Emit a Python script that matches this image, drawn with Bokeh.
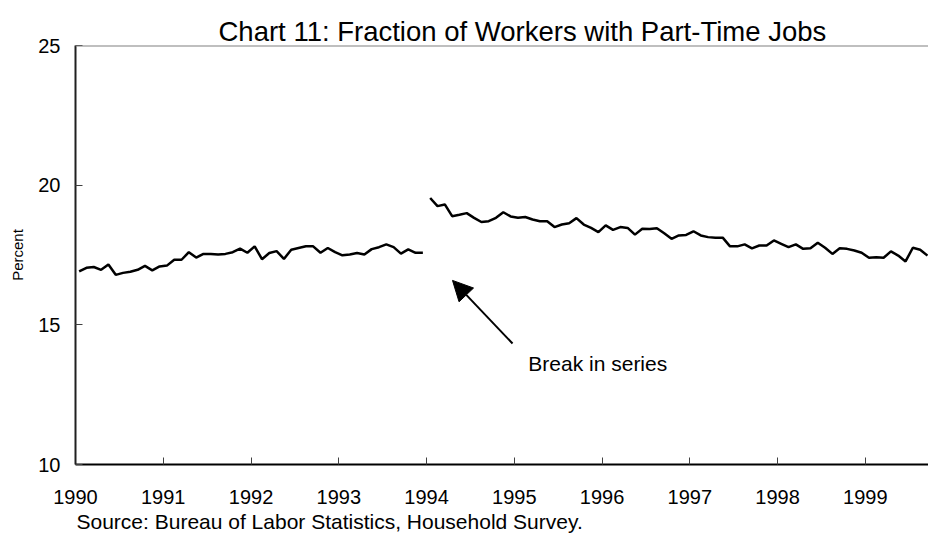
from bokeh.plotting import figure
from bokeh.models import Range1d, FixedTicker, Span, Arrow, NormalHead, Label, Title
from bokeh.embed import file_html
from bokeh.resources import INLINE

# ---- data ----
x_ticks = [1990, 1991, 1992, 1993, 1994, 1995, 1996, 1997, 1998, 1999]
y_ticks = [10, 15, 20, 25]

series1_start = 1990  # monthly, Jan 1990 - Dec 1993
series1 = [16.91, 17.04, 17.07, 16.97, 17.16, 16.79, 16.86, 16.90, 16.97, 17.11, 16.95, 17.09,
           17.12, 17.33, 17.33, 17.60, 17.41, 17.54, 17.54, 17.52, 17.54, 17.60, 17.73, 17.58,
           17.81, 17.35, 17.57, 17.64, 17.36, 17.69, 17.75, 17.81, 17.81, 17.58, 17.75, 17.60,
           17.49, 17.52, 17.57, 17.52, 17.71, 17.78, 17.88, 17.78, 17.55, 17.70, 17.58, 17.58]

series2_start = 1994  # monthly, Jan 1994 - Sep 1999
series2 = [19.54, 19.25, 19.31, 18.89, 18.94, 19.00, 18.83, 18.68, 18.71, 18.83, 19.03, 18.88,
           18.83, 18.86, 18.77, 18.71, 18.71, 18.50, 18.59, 18.64, 18.82, 18.59, 18.47, 18.32,
           18.56, 18.40, 18.50, 18.47, 18.23, 18.44, 18.43, 18.46, 18.28, 18.08, 18.20, 18.22,
           18.35, 18.20, 18.14, 18.12, 18.12, 17.81, 17.81, 17.88, 17.74, 17.84, 17.84, 18.02,
           17.90, 17.78, 17.88, 17.72, 17.74, 17.94, 17.76, 17.54, 17.74, 17.72, 17.66, 17.58,
           17.40, 17.42, 17.40, 17.63, 17.48, 17.27, 17.76, 17.69, 17.48]

x1 = [series1_start + (i + 0.5) / 12 for i in range(len(series1))]
x2 = [series2_start + (i + 0.5) / 12 for i in range(len(series2))]

title_text = "Chart 11: Fraction of Workers with Part-Time Jobs"
source_text = "Source: Bureau of Labor Statistics, Household Survey."
note_text = "Break in series"
note_pos = (1995.16, 13.62)
arrow_tail = (1994.98, 14.33)
arrow_tip = (1994.296, 16.59)

FONT = "Liberation Sans"

p = figure(frame_width=853, frame_height=419,
           x_range=Range1d(1990, 1999.72), y_range=Range1d(10, 25),
           output_backend="svg", toolbar_location=None,
           min_border_left=75, min_border_right=0, min_border_top=45, min_border_bottom=0,
           background_fill_color="white", border_fill_color="white")
p.outline_line_color = None
p.grid.visible = False

p.title.text = title_text
p.title.align = "left"
p.title.offset = 143
p.title.text_font = FONT
p.title.text_font_size = "27.5px"
p.title.text_font_style = "normal"
p.title.text_color = "black"
p.title.standoff = -3

# axes
xa = p.xaxis[0]
xa.ticker = FixedTicker(ticks=x_ticks)
xa.major_tick_in = 7
xa.major_tick_out = 0
xa.minor_tick_in = 0
xa.minor_tick_out = 0
xa.axis_line_width = 2
xa.axis_line_color = "black"
xa.major_tick_line_color = "#404040"
xa.major_label_text_font = FONT
xa.major_label_text_font_size = "20px"
xa.major_label_text_color = "black"
xa.major_label_standoff = 25

ya = p.yaxis[0]
ya.ticker = FixedTicker(ticks=y_ticks)
ya.major_tick_in = 7
ya.major_tick_out = 0
ya.minor_tick_in = 0
ya.minor_tick_out = 0
ya.axis_line_width = 2
ya.axis_line_color = "#202020"
ya.major_tick_line_color = "#404040"
ya.major_label_text_font = FONT
ya.major_label_text_font_size = "20px"
ya.major_label_text_color = "black"
ya.major_label_standoff = 15
ya.axis_label = "Percent"
ya.axis_label_text_font = FONT
ya.axis_label_text_font_size = "15px"
ya.axis_label_text_font_style = "normal"
ya.axis_label_text_color = "black"
ya.axis_label_standoff = 9

# top border line
p.add_layout(Span(location=25, dimension="width", line_color="#808080", line_width=2))

# data lines
p.line(x1, series1, line_color="black", line_width=2.5)
p.line(x2, series2, line_color="black", line_width=2.5)

# annotation
p.add_layout(Arrow(end=NormalHead(size=20, fill_color="black", line_color="black"),
                   x_start=arrow_tail[0], y_start=arrow_tail[1],
                   x_end=arrow_tip[0], y_end=arrow_tip[1],
                   line_color="black", line_width=2))
p.add_layout(Label(x=note_pos[0], y=note_pos[1], text=note_text, text_baseline="middle",
                   text_font=FONT, text_font_size="21px", text_color="black"))

src = Title(text=source_text, align="left", offset=1, text_font=FONT,
            text_font_size="21px", text_font_style="normal", text_color="black", standoff=2)
p.add_layout(src, "below")

open("out.html", "w").write(file_html(p, INLINE))
